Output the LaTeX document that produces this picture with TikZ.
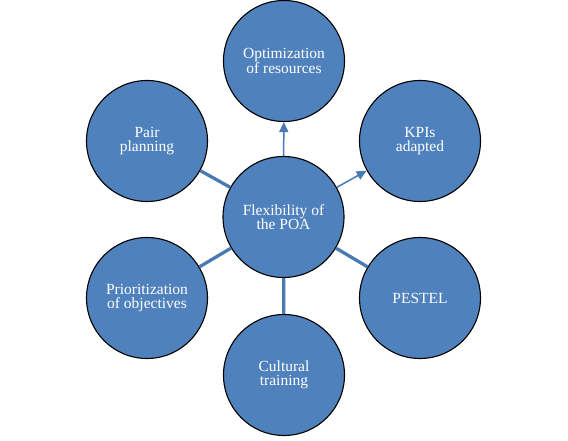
\documentclass[tikz,border=0pt]{standalone}
\usepackage{fontspec}
\setmainfont{Liberation Serif}
\usetikzlibrary{arrows.meta}
\definecolor{bubble}{HTML}{4F81BD}
\definecolor{link}{HTML}{4A7AB3}
\tikzset{
  bubble/.style={circle, draw=black, line width=1.1pt, fill=bubble, minimum size=121pt,
    inner sep=0pt, text=white, align=center, font=\fontsize{15.5}{14.5}\selectfont},
  thin arrow/.style={draw=link, line width=1.5pt, -{Triangle[width=9pt,length=10pt]}},
  thick link/.style={draw=link, line width=3.3pt}
}
\begin{document}
\begin{tikzpicture}[x=1pt,y=1pt]
\useasboundingbox (0,0) rectangle (568,441);
\node[bubble] (c)  at (283.5,224) {Flexibility of\\the POA};
\node[bubble] (t)  at (284,380) {Optimization\\of resources};
\node[bubble] (tr) at (420,300) {KPIs\\adapted};
\node[bubble] (br) at (420,143) {PESTEL};
\node[bubble] (b)  at (284,66) {Cultural\\training};
\node[bubble] (bl) at (147,143) {Prioritization\\of objectives};
\node[bubble] (tl) at (147,300) {Pair\\planning};
\draw[thin arrow] (c) -- (t);
\draw[thin arrow] (c) -- (tr);
\draw[thick link] (c) -- (br);
\draw[thick link] (c) -- (b);
\draw[thick link] (c) -- (bl);
\draw[thick link] (c) -- (tl);
\end{tikzpicture}
\end{document}
